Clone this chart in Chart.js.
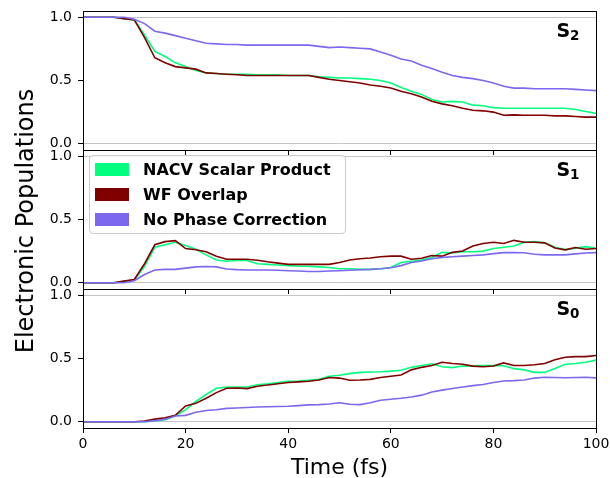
<!DOCTYPE html>
<html>
<head>
<meta charset="utf-8">
<script src="https://cdn.jsdelivr.net/npm/chart.js@4.4.0/dist/chart.umd.min.js"></script>
<style>
body{margin:0;background:#fff;width:610px;height:478px;position:relative;overflow:hidden;font-family:"DejaVu Sans",sans-serif;color:#000}
canvas{position:absolute;left:0}
#legend{position:absolute;left:89px;top:155px;width:255px;height:77px;border:1px solid #cccccc;border-radius:4px;background:rgba(255,255,255,0.8)}
.row{position:absolute;left:0;width:255px;height:25px;font-weight:bold;font-size:16px;line-height:25px}
.patch{position:absolute;left:5px;top:6px;width:34px;height:13px}
.lbl{position:absolute;left:53px;top:0;white-space:nowrap}
#ylab{position:absolute;left:-175px;top:207px;width:400px;height:28px;line-height:28px;font-size:24px;text-align:center;transform:rotate(-90deg)}
#xlab{position:absolute;left:83px;top:454px;width:513px;height:26px;line-height:26px;font-size:22px;text-align:center}
</style>
</head>
<body>
<canvas id="p2" width="610" height="160" style="top:0px"></canvas>
<canvas id="p1" width="610" height="160" style="top:139px"></canvas>
<canvas id="p0" width="610" height="200" style="top:278px"></canvas>
<div id="legend">
  <div class="row" style="top:1px"><span class="patch" style="background:#00ff7f"></span><span class="lbl">NACV Scalar Product</span></div>
  <div class="row" style="top:26px"><span class="patch" style="background:#800000"></span><span class="lbl">WF Overlap</span></div>
  <div class="row" style="top:51px"><span class="patch" style="background:#7b68ee"></span><span class="lbl">No Phase Correction</span></div>
</div>
<div id="ylab">Electronic Populations</div>
<div id="xlab">Time (fs)</div>
<script>
// time axis (fs)
var time = [0,2,4,6,8,10,12,14,16,18,20,22,24,26,28,30,32,34,36,38,40,42,44,46,48,50,
  52,54,56,58,60,62,64,66,68,70,72,74,76,78,80,82,84,86,88,90,92,94,96,98,100];
var xTicks = [0,20,40,60,80,100];
var yTicks = [0,0.5,1];

// S2 populations
var s2Nacv = [1,1,1,1,0.99,0.98,0.86,0.73,0.69,0.64, 0.61,0.58,0.56,0.555,0.55, 0.55,0.55,0.545,0.545,0.545,
  0.54,0.54,0.54,0.53,0.525, 0.52,0.52,0.515,0.51,0.50, 0.48,0.445,0.415,0.39,0.35, 0.33,0.335,0.33,0.305,0.30,
  0.285,0.28,0.28,0.28,0.28, 0.28,0.28,0.28,0.27,0.255, 0.24];
var s2Wf = [1,1,1,1,0.99,0.98,0.84,0.68,0.64,0.61, 0.60,0.59,0.56,0.555,0.55, 0.545,0.54,0.54,0.54,0.54,
  0.54,0.54,0.54,0.525,0.51, 0.50,0.49,0.48,0.465,0.455, 0.44,0.415,0.395,0.37,0.335, 0.315,0.30,0.28,0.265,0.26,
  0.25,0.225,0.228,0.225,0.225, 0.225,0.22,0.22,0.215,0.21, 0.21];
var s2None = [1,1,1,1,1,0.985,0.95,0.89,0.875,0.855, 0.835,0.815,0.795,0.79,0.785, 0.785,0.78,0.78,0.78,0.78,
  0.78,0.78,0.78,0.77,0.76, 0.765,0.76,0.755,0.75,0.725, 0.70,0.67,0.655,0.62,0.595, 0.565,0.54,0.525,0.515,0.50,
  0.48,0.455,0.44,0.44,0.435, 0.435,0.435,0.435,0.43,0.425, 0.42];

// S1 populations
var s1Nacv = [0,0,0,0,0.01,0.02,0.13,0.28,0.30,0.32, 0.295,0.265,0.22,0.18,0.17, 0.175,0.175,0.15,0.145,0.14,
  0.135,0.13,0.13,0.125,0.12, 0.11,0.11,0.105,0.105,0.11, 0.12,0.16,0.17,0.18,0.20, 0.24,0.235,0.245,0.245,0.25,
  0.27,0.28,0.29,0.32,0.325, 0.315,0.28,0.262,0.272,0.285, 0.272];
var s1Wf = [0,0,0,0,0.012,0.025,0.15,0.30,0.325,0.333, 0.27,0.26,0.245,0.21,0.185, 0.185,0.185,0.178,0.165,0.155,
  0.145,0.145,0.145,0.145,0.145, 0.16,0.18,0.19,0.195,0.205, 0.21,0.21,0.185,0.193,0.215, 0.21,0.24,0.25,0.29,0.31,
  0.32,0.31,0.335,0.32,0.32, 0.315,0.275,0.26,0.278,0.265, 0.27];
var s1None = [0,0,0,0,0,0.015,0.065,0.10,0.105,0.105, 0.115,0.125,0.128,0.125,0.108, 0.103,0.10,0.10,0.10,0.098,
  0.095,0.093,0.088,0.088,0.092, 0.095,0.098,0.102,0.105,0.11, 0.118,0.135,0.16,0.172,0.19, 0.20,0.205,0.21,0.215,0.22,
  0.23,0.238,0.238,0.237,0.225, 0.22,0.22,0.22,0.228,0.235, 0.238];

// S0 populations
var s0Nacv = [0,0,0,0,0,0,0,0.005,0.015,0.045, 0.095,0.16,0.215,0.265,0.275, 0.275,0.275,0.292,0.30,0.31,
  0.32,0.322,0.328,0.335,0.36, 0.368,0.38,0.39,0.393,0.395, 0.40,0.407,0.43,0.445,0.458, 0.435,0.428,0.44,0.442,0.444,
  0.444,0.443,0.42,0.41,0.39, 0.39,0.42,0.455,0.46,0.47, 0.487];
var s0Wf = [0,0,0,0,0,0,0.005,0.02,0.03,0.05, 0.125,0.145,0.185,0.23,0.265, 0.267,0.262,0.28,0.29,0.30,
  0.31,0.315,0.32,0.33,0.35, 0.345,0.328,0.33,0.335,0.35, 0.36,0.37,0.41,0.43,0.445, 0.47,0.46,0.455,0.44,0.435,
  0.44,0.465,0.445,0.445,0.45, 0.46,0.49,0.51,0.515,0.515, 0.524];
var s0None = [0,0,0,0,0,0,0,0.008,0.02,0.045, 0.05,0.075,0.088,0.095,0.105, 0.108,0.112,0.116,0.118,0.12,
  0.122,0.127,0.133,0.135,0.14, 0.15,0.138,0.135,0.15,0.17, 0.178,0.185,0.195,0.21,0.235, 0.25,0.262,0.275,0.285,0.294,
  0.31,0.322,0.325,0.33,0.345, 0.352,0.35,0.348,0.35,0.352, 0.347];

var colNacv = "#00ff7f", colWf = "#800000", colNone = "#7b68ee";

// black box round each panel + state label in the corner
var panelDeco = {
  id: 'panelDeco',
  afterDatasetsDraw: function(chart, args, opts) {
    var a = chart.chartArea, c = chart.ctx;
    c.save();
    c.strokeStyle = '#000';
    c.lineWidth = 1;
    c.strokeRect(Math.round(a.left) + 0.5, Math.round(a.top) + 0.5, Math.round(a.right - a.left), Math.round(a.bottom - a.top));
    c.fillStyle = '#000';
    c.textBaseline = 'alphabetic';
    c.font = 'bold 19px "DejaVu Sans"';
    c.fillText('S', 556.5, a.top + 26);
    c.font = 'bold 13.5px "DejaVu Sans"';
    c.fillText(opts.sub, 570, a.top + 29);
    c.restore();
  }
};

function line(label, data, color, order) {
  return {label: label, data: data, borderColor: color, backgroundColor: color,
    borderWidth: 1.6, pointRadius: 0, tension: 0, fill: false, order: order};
}

function makePanel(id, sub, nacv, wf, none, bottom) {
  var pts = function(arr) { return arr.map(function(v, i) { return {x: time[i], y: v}; }); };
  return new Chart(document.getElementById(id), {
    type: 'line',
    data: {
      datasets: [
        line("NACV Scalar Product", pts(nacv), colNacv, 3),
        line("WF Overlap", pts(wf), colWf, 2),
        line("No Phase Correction", pts(none), colNone, 1)
      ]
    },
    plugins: [panelDeco],
    options: {
      responsive: false,
      animation: false,
      layout: {padding: {top: 11, right: 14, left: 0, bottom: 0}},
      plugins: {legend: {display: false}, tooltip: {enabled: false}, panelDeco: {sub: sub}},
      scales: {
        x: {
          type: 'linear', min: 0, max: 100,
          afterBuildTicks: function(s) { s.ticks = xTicks.map(function(v) { return {value: v}; }); },
          afterFit: function(s) { s.height = bottom ? 50 : 10; s.paddingLeft = 0; s.paddingRight = 0; },
          border: {display: false},
          grid: {drawOnChartArea: false, drawTicks: true, tickLength: 5, color: '#000', tickColor: '#000'},
          ticks: {display: bottom, color: '#000', padding: 3, maxRotation: 0,
            font: {family: 'DejaVu Sans', size: 14}}
        },
        y: {
          min: -0.05, max: 1.05,
          afterBuildTicks: function(s) { s.ticks = yTicks.map(function(v) { return {value: v}; }); },
          // keep the tick labels from eating into the panel height
          afterFit: function(s) { s.width = 83; s.paddingTop = 0; s.paddingBottom = 0; },
          border: {display: false},
          grid: {
            drawTicks: true, tickLength: 5, tickColor: '#000', lineWidth: 1,
            color: function(ctx) {
              var v = ctx.tick ? ctx.tick.value : null;
              return (v === 0 || v === 1) ? '#c4c4c4' : 'rgba(0,0,0,0)';
            }
          },
          ticks: {color: '#000', padding: 6, font: {family: 'DejaVu Sans', size: 14},
            callback: function(v) { return Number(v).toFixed(1); }}
        }
      }
    }
  });
}

makePanel('p2', '2', s2Nacv, s2Wf, s2None, false);
makePanel('p1', '1', s1Nacv, s1Wf, s1None, false);
makePanel('p0', '0', s0Nacv, s0Wf, s0None, true);
</script>
</body>
</html>
